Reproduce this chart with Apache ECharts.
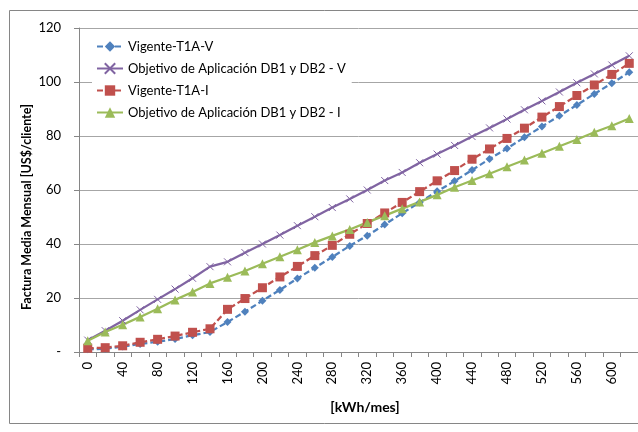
<!DOCTYPE html>
<html>
<head>
<meta charset="utf-8">
<script src="https://cdn.jsdelivr.net/npm/echarts@6/dist/echarts.min.js"></script>
<style>
  html, body { margin: 0; padding: 0; background: #fff; }
  #chart { width: 638px; height: 432px; }
</style>
</head>
<body>
<div id="chart"></div>
<script>
// Consumption steps, kWh/mes
const categories = [0, 20, 40, 60, 80, 100, 120, 140, 160, 180, 200, 220, 240, 260, 280, 300,
  320, 340, 360, 380, 400, 420, 440, 460, 480, 500, 520, 540, 560, 580, 600, 620];

const vigenteV = [1.0, 1.2, 2.0, 3.0, 3.8, 4.8, 6.2, 7.4, 11.1, 14.9, 19.0, 23.0, 27.2, 31.2, 35.2, 39.3,
  43.1, 47.2, 51.4, 55.4, 59.5, 63.3, 67.4, 71.5, 75.4, 79.5, 83.5, 87.5, 91.5, 95.6, 99.5, 103.6];

const objetivoV = [4.4, 7.9, 11.6, 15.6, 19.5, 23.3, 27.3, 31.6, 33.4, 36.8, 40.0, 43.3, 46.8, 50.1, 53.5, 56.7,
  60.0, 63.5, 66.5, 70.1, 73.3, 76.5, 79.8, 83.0, 86.3, 89.7, 93.0, 96.3, 99.7, 103.0, 106.3, 109.7];

const vigenteI = [1.4, 1.6, 2.3, 3.6, 4.7, 5.9, 7.3, 8.6, 15.8, 19.8, 23.8, 27.8, 31.7, 35.7, 39.5, 43.6,
  47.6, 51.5, 55.4, 59.4, 63.4, 67.2, 71.4, 75.2, 79.1, 82.9, 87.0, 90.9, 95.0, 98.9, 102.8, 106.9];

const objetivoI = [4.2, 7.4, 10.1, 13.0, 16.0, 19.3, 22.2, 25.4, 27.7, 30.0, 32.7, 35.3, 37.9, 40.6, 43.0, 45.4,
  48.0, 50.5, 53.1, 55.6, 58.2, 61.0, 63.5, 66.0, 68.6, 71.1, 73.6, 76.2, 78.7, 81.4, 83.8, 86.5];

const seriesNames = [
  'Vigente-T1A-V',
  'Objetivo de Aplicación DB1 y DB2 - V',
  'Vigente-T1A-I',
  'Objetivo de Aplicación DB1 y DB2 - I'
];

const xTitle = '[kWh/mes]';
const yTitle = 'Factura Media Mensual [US$/cliente]';

const FONT = 'Lato, "Open Sans", sans-serif';
const crossPath = 'path://M0,0L10,10M10,0L0,10';

const chart = echarts.init(document.getElementById('chart'), null, { renderer: 'canvas' });

function lineSeries(name, data, color, dashed, symbol, size, extraItem) {
  return {
    name: name,
    type: 'line',
    data: data,
    symbol: symbol,
    symbolSize: size,
    showAllSymbol: true,
    lineStyle: { color: color, width: 2.25, type: dashed ? [6, 3] : 'solid' },
    itemStyle: Object.assign({ color: color }, extraItem || {}),
    emphasis: { disabled: true },
    animation: false,
    z: 3
  };
}

chart.setOption({
  backgroundColor: '#ffffff',
  animation: false,
  textStyle: { fontFamily: FONT },
  graphic: [
    {
      type: 'rect',
      shape: { x: 9.5, y: 10.5, width: 640, height: 413 },
      style: { fill: 'none', stroke: '#868686', lineWidth: 1 },
      z: -10
    },
    {
      type: 'text',
      x: 365, y: 407,
      style: {
        text: xTitle, fontFamily: FONT, fontSize: 14, fontWeight: 'bold', fill: '#000',
        align: 'center', verticalAlign: 'middle'
      }
    },
    {
      type: 'text',
      x: 27, y: 207,
      rotation: Math.PI / 2,
      style: {
        text: yTitle, fontFamily: FONT, fontSize: 12.5, fontWeight: 'bold', fill: '#000',
        align: 'center', verticalAlign: 'middle'
      }
    }
  ],
  grid: { left: 79, top: 28, width: 561, height: 324, containLabel: false },
  legend: {
    orient: 'vertical',
    left: 92,
    top: 37,
    itemWidth: 26,
    itemHeight: 13,
    itemGap: 9,
    padding: [3, 6, 3, 4],
    backgroundColor: '#ffffff',
    textStyle: { fontFamily: FONT, fontSize: 13, color: '#000' },
    data: seriesNames,
    z: 10
  },
  xAxis: {
    type: 'category',
    data: categories,
    boundaryGap: true,
    axisLine: { lineStyle: { color: '#868686', width: 1 } },
    axisTick: { show: true, interval: 0, length: 5, lineStyle: { color: '#868686' } },
    axisLabel: { interval: 1, rotate: 90, fontFamily: FONT, fontSize: 13, color: '#000', margin: 10 },
    splitLine: { show: false }
  },
  yAxis: {
    type: 'value',
    min: 0,
    max: 120,
    interval: 20,
    axisLine: { show: true, lineStyle: { color: '#868686', width: 1 } },
    axisTick: { show: true, length: 5, lineStyle: { color: '#868686' } },
    axisLabel: {
      fontFamily: FONT, fontSize: 13, color: '#000', margin: 18,
      formatter: v => (v === 0 ? '-' : String(v))
    },
    splitLine: { show: true, lineStyle: { color: '#a6a6a6', width: 1 } }
  },
  series: [
    lineSeries(seriesNames[0], vigenteV, '#4f81bd', true, 'diamond', 8),
    lineSeries(seriesNames[1], objetivoV, '#8064a2', false, crossPath, 7,
      { borderColor: '#8064a2', borderWidth: 1 }),
    lineSeries(seriesNames[2], vigenteI, '#c0504d', true, 'rect', 9),
    lineSeries(seriesNames[3], objetivoI, '#9bbb59', false, 'triangle', 9)
  ]
});
</script>
</body>
</html>
